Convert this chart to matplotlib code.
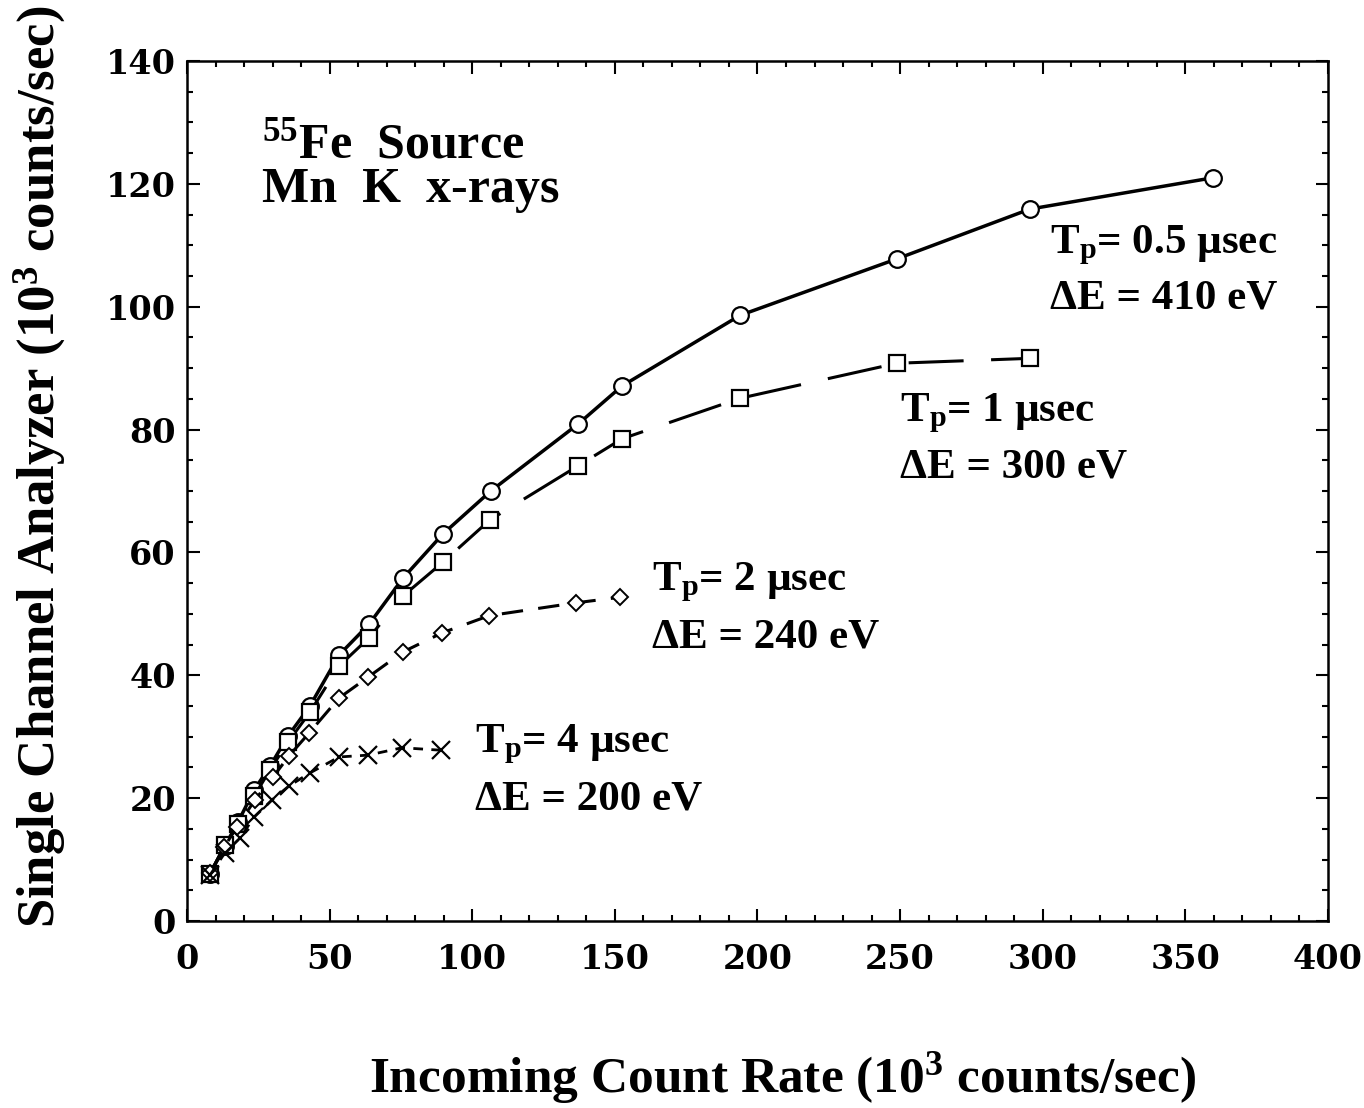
import matplotlib
matplotlib.use("Agg")
import matplotlib.pyplot as plt
from matplotlib.ticker import MultipleLocator

plt.rcParams['font.family'] = ['Liberation Serif', 'DejaVu Serif']
plt.rcParams['font.weight'] = 'bold'
plt.rcParams['mathtext.fontset'] = 'custom'
plt.rcParams['mathtext.rm'] = 'Liberation Serif'
plt.rcParams['mathtext.bf'] = 'Liberation Serif:bold'
plt.rcParams['mathtext.it'] = 'Liberation Serif:italic'

# Data (10^3 counts/sec)
x_05 = [8.1, 13.3, 17.9, 23.5, 29.1, 35.4, 43.1, 53.3, 63.8, 75.7, 89.7, 106.5, 137.1, 152.5, 193.9, 248.9, 295.5, 359.7]
y_05 = [7.7, 12.2, 16.1, 21.3, 25.2, 30.1, 35.0, 43.3, 48.3, 55.8, 63.0, 70.0, 80.9, 87.1, 98.6, 107.8, 115.9, 121.0]

x_1 = [8.1, 13.3, 17.9, 23.5, 29.1, 35.4, 43.1, 53.3, 63.8, 75.7, 89.7, 106.2, 137.1, 152.5, 193.9, 248.9, 295.5]
y_1 = [7.7, 12.4, 15.8, 20.3, 24.6, 29.1, 34.0, 41.5, 46.1, 52.9, 58.4, 65.3, 74.1, 78.5, 85.1, 90.8, 91.6]

x_2 = [8.1, 13.0, 17.5, 23.8, 30.1, 35.8, 42.8, 53.3, 63.5, 75.7, 89.4, 105.9, 136.4, 151.8]
y_2 = [7.8, 12.0, 15.3, 19.7, 23.4, 26.9, 30.6, 36.3, 39.7, 43.8, 46.9, 49.7, 51.8, 52.7]

x_4 = [8.1, 13.3, 18.6, 23.5, 29.8, 35.8, 43.1, 53.3, 63.5, 75.4, 89.0]
y_4 = [7.5, 11.1, 13.5, 16.9, 19.7, 22.0, 24.1, 26.7, 27.0, 28.2, 27.8]

x_ticks = [0, 50, 100, 150, 200, 250, 300, 350, 400]
y_ticks = [0, 20, 40, 60, 80, 100, 120, 140]

fig = plt.figure(figsize=(13.64, 11.08), dpi=100)
ax = fig.add_axes([0.1371, 0.1688, 0.8365, 0.7761])

ax.plot(x_05, y_05, color='black', lw=2.5, marker='o', ms=12, mfc='white', mec='black', mew=1.6)
ax.plot(x_1, y_1, color='black', lw=2.2, dashes=(18, 9), marker='s', ms=12, mfc='white', mec='black', mew=1.6)
ax.plot(x_2, y_2, color='black', lw=2.2, dashes=(7, 5), marker='D', ms=8, mfc='white', mec='black', mew=1.4)
ax.plot(x_4, y_4, color='black', lw=2.0, dashes=(3.5, 3), marker='x', ms=13, mec='black', mew=1.6)

ax.set_xlim(0, 400)
ax.set_ylim(0, 140)
ax.set_xticks(x_ticks)
ax.set_yticks(y_ticks)
ax.xaxis.set_minor_locator(MultipleLocator(10))
ax.yaxis.set_minor_locator(MultipleLocator(5))
ax.tick_params(which='both', direction='in', top=True, right=True, width=1.5)
ax.tick_params(which='major', length=9)
ax.tick_params(which='minor', length=4.5)
ax.tick_params(axis='x', pad=16)
ax.tick_params(axis='y', pad=8)
for lab in ax.get_xticklabels() + ax.get_yticklabels():
    lab.set_fontweight('bold')
    lab.set_fontfamily('DejaVu Serif')
    lab.set_fontsize(24)
for s in ax.spines.values():
    s.set_linewidth(1.8)

ax.set_xlabel('Incoming Count Rate (10$^{\\mathbf{3}}$ counts/sec)', fontsize=37, fontweight='bold', va='center')
ax.xaxis.set_label_coords(0.522, -0.183)
ax.set_ylabel('Single Channel Analyzer (10$^{\\mathbf{3}}$ counts/sec)', fontsize=38, fontweight='bold', va='center')
ax.yaxis.set_label_coords(-0.129, 0.528)

tfs = 31
ax.text(26.3, 126.3, '$^{55}$Fe  Source', fontsize=36, fontweight='bold', va='center', ha='left')
ax.text(26.3, 119.0, 'Mn  K  x-rays', fontsize=36, fontweight='bold', va='center', ha='left')

ax.text(302.5, 110.0, 'T$_{\\mathbf{p}}$= 0.5 µsec', fontsize=tfs, fontweight='bold', va='center', ha='left')
ax.text(302.5, 101.4, 'ΔE = 410 eV', fontsize=tfs, fontweight='bold', va='center', ha='left')
ax.text(250.0, 82.7, 'T$_{\\mathbf{p}}$= 1 µsec', fontsize=tfs, fontweight='bold', va='center', ha='left')
ax.text(250.0, 73.9, 'ΔE = 300 eV', fontsize=tfs, fontweight='bold', va='center', ha='left')
ax.text(163.0, 55.2, 'T$_{\\mathbf{p}}$= 2 µsec', fontsize=tfs, fontweight='bold', va='center', ha='left')
ax.text(163.0, 46.2, 'ΔE = 240 eV', fontsize=tfs, fontweight='bold', va='center', ha='left')
ax.text(101.0, 28.7, 'T$_{\\mathbf{p}}$= 4 µsec', fontsize=tfs, fontweight='bold', va='center', ha='left')
ax.text(101.0, 19.7, 'ΔE = 200 eV', fontsize=tfs, fontweight='bold', va='center', ha='left')

fig.savefig('out.png', dpi=100)
